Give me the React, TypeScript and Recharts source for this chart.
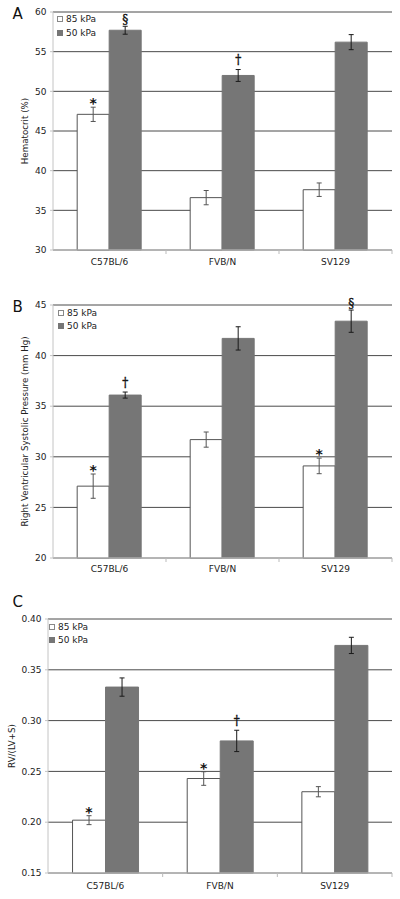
import React from 'react';
import { BarChart, Bar, XAxis, YAxis, CartesianGrid, ErrorBar, LabelList } from 'recharts';

const STRAINS = ['C57BL/6', 'FVB/N', 'SV129'];
const SERIES_NAMES = ['85 kPa', '50 kPa'];

// A: hematocrit (%)
const HCT_85 = [47.1, 36.6, 37.6];
const HCT_85_ERR = [0.9, 0.9, 0.85];
const HCT_50 = [57.7, 52.0, 56.2];
const HCT_50_ERR = [0.5, 0.75, 0.95];
const HCT_85_MARK = ['*', '', ''];
const HCT_50_MARK = ['§', '†', ''];
const HCT_TICKS = [30, 35, 40, 45, 50, 55, 60];

// B: right ventricular systolic pressure (mm Hg)
const RVSP_85 = [27.1, 31.7, 29.1];
const RVSP_85_ERR = [1.2, 0.75, 0.77];
const RVSP_50 = [36.1, 41.7, 43.4];
const RVSP_50_ERR = [0.3, 1.15, 1.1];
const RVSP_85_MARK = ['*', '', '*'];
const RVSP_50_MARK = ['†', '', '§'];
const RVSP_TICKS = [20, 25, 30, 35, 40, 45];

// C: RV/(LV+S)
const RV_85 = [0.202, 0.243, 0.230];
const RV_85_ERR = [0.0044, 0.0067, 0.005];
const RV_50 = [0.333, 0.280, 0.374];
const RV_50_ERR = [0.009, 0.0105, 0.008];
const RV_85_MARK = ['*', '*', ''];
const RV_50_MARK = ['', '†', ''];
const RV_TICKS = [0.15, 0.2, 0.25, 0.3, 0.35, 0.4];

const FONT = '"DejaVu Sans", Verdana, sans-serif';
const SERIF = '"DejaVu Serif", "Liberation Serif", serif';
const GRAY = '#767676';

// significance symbol sitting just above the error bar
const markLabel = (vals: number[], errs: number[], base: number) => (props: any) => {
  const { value, index } = props;
  if (!value) return null;
  const x = Number(props.x), y = Number(props.y), w = Number(props.width), h = Number(props.height);
  const pxPerUnit = h / (vals[index] - base);
  const errTop = y - errs[index] * pxPerUnit;
  const cx = x + w / 2;
  if (value === '*') {
    return (
      <text x={cx} y={errTop + 1} textAnchor="middle" fontFamily={FONT} fontWeight="bold" fontSize={14} fill="#111">
        *
      </text>
    );
  }
  const dy = value === '†' ? -5.5 : -2.5;
  return (
    <text
      x={cx}
      y={errTop + dy}
      textAnchor="middle"
      fontFamily={SERIF}
      fontSize={12}
      fill="#111"
      stroke="#111"
      strokeWidth={0.35}
    >
      {value}
    </text>
  );
};

const StrainTick = (props: any) => {
  const { x, y, payload, textDy } = props;
  const half = payload.offset ?? 0;
  return (
    <g>
      <text x={x} y={y + textDy} textAnchor="middle" fontFamily={FONT} fontSize={9} fill="#222">
        {payload.value}
      </text>
      <line x1={x + half} x2={x + half} y1={y} y2={y + 4} stroke="#bbb" />
    </g>
  );
};

type PanelProps = {
  letter: string;
  letterTop: number;
  yLabel: string;
  labelDx: number;
  ticks: number[];
  fmt: (v: number) => string;
  lo: number[];
  loErr: number[];
  loMark: string[];
  hi: number[];
  hiErr: number[];
  hiMark: string[];
  height: number;
  top: number;
  xAxisHeight: number;
  yAxisWidth: number;
  xTextDy: number;
  legendLeft: number;
  legendTop: number;
};

const Panel: React.FC<PanelProps> = (p) => {
  const rows = STRAINS.map((s, i) => ({
    strain: s,
    lo: p.lo[i],
    loErr: p.loErr[i],
    loMark: p.loMark[i],
    hi: p.hi[i],
    hiErr: p.hiErr[i],
    hiMark: p.hiMark[i],
  }));
  const base = p.ticks[0];
  const domain = [p.ticks[0], p.ticks[p.ticks.length - 1]];
  return (
    <div style={{ position: 'relative', width: 400, height: p.height }}>
      <div
        style={{ position: 'absolute', left: 12.5, top: p.letterTop, fontFamily: FONT, fontSize: 15, lineHeight: '15px', color: '#111' }}
      >
        {p.letter}
      </div>
      <BarChart
        width={400}
        height={p.height}
        data={rows}
        margin={{ top: p.top, right: 8, bottom: 0, left: 0 }}
        barCategoryGap="21.4%"
        barGap={0}
      >
        <CartesianGrid vertical={false} stroke="#4a4a4a" strokeWidth={1} />
        <XAxis
          dataKey="strain"
          height={p.xAxisHeight}
          axisLine={{ stroke: '#c4c4c4' }}
          tickLine={false}
          tickSize={0}
          tickMargin={0}
          interval={0}
          tick={(t: any) => <StrainTick {...t} textDy={p.xTextDy} />}
        />
        <YAxis
          width={p.yAxisWidth}
          domain={domain}
          ticks={p.ticks}
          interval={0}
          tickFormatter={p.fmt}
          axisLine={{ stroke: '#c4c4c4' }}
          tickLine={{ stroke: '#c4c4c4' }}
          tickSize={3}
          tickMargin={3.5}
          tick={{ fontFamily: FONT, fontSize: 9, fill: '#222' }}
          label={{
            value: p.yLabel,
            angle: -90,
            position: 'center',
            dx: p.labelDx,
            style: { fontFamily: FONT, fontSize: 8.7, fill: '#222', textAnchor: 'middle' },
          }}
        />
        <Bar dataKey="lo" fill="#ffffff" stroke="#555" strokeWidth={1} isAnimationActive={false}>
          <ErrorBar dataKey="loErr" width={2.5} stroke="#555" strokeWidth={1} />
          <LabelList dataKey="loMark" content={markLabel(p.lo, p.loErr, base)} />
        </Bar>
        <Bar dataKey="hi" fill={GRAY} stroke={GRAY} strokeWidth={1} isAnimationActive={false}>
          <ErrorBar dataKey="hiErr" width={2.5} stroke="#1a1a1a" strokeWidth={1} />
          <LabelList dataKey="hiMark" content={markLabel(p.hi, p.hiErr, base)} />
        </Bar>
      </BarChart>
      <div style={{ position: 'absolute', left: p.legendLeft, top: p.legendTop, fontFamily: FONT, fontSize: 9, color: '#222' }}>
        {SERIES_NAMES.map((name, i) => (
          <div key={name} style={{ display: 'flex', alignItems: 'center', height: 13.5 }}>
            <svg width={6} height={6} style={{ marginRight: 3 }}>
              <rect
                x={0.5}
                y={0.5}
                width={5}
                height={5}
                fill={i === 0 ? '#fff' : GRAY}
                stroke={i === 0 ? '#888' : GRAY}
              />
            </svg>
            <span>{name}</span>
          </div>
        ))}
      </div>
    </div>
  );
};

export default function App() {
  return (
    <div style={{ position: 'absolute', left: 0, top: 0, width: 400, height: 899, background: '#fff' }}>
      <Panel
        letter="A"
        letterTop={7.3}
        yLabel="Hematocrit (%)"
        labelDx={-1.5}
        ticks={HCT_TICKS}
        fmt={(v) => String(v)}
        lo={HCT_85}
        loErr={HCT_85_ERR}
        loMark={HCT_85_MARK}
        hi={HCT_50}
        hiErr={HCT_50_ERR}
        hiMark={HCT_50_MARK}
        height={290}
        top={12}
        xAxisHeight={40}
        yAxisWidth={53}
        xTextDy={15}
        legendLeft={57}
        legendTop={12.5}
      />
      <Panel
        letter="B"
        letterTop={9.6}
        yLabel="Right Ventricular Systolic Pressure (mm Hg)"
        labelDx={-1.5}
        ticks={RVSP_TICKS}
        fmt={(v) => String(v)}
        lo={RVSP_85}
        loErr={RVSP_85_ERR}
        loMark={RVSP_85_MARK}
        hi={RVSP_50}
        hiErr={RVSP_50_ERR}
        hiMark={RVSP_50_MARK}
        height={300}
        top={15}
        xAxisHeight={32}
        yAxisWidth={53}
        xTextDy={13.6}
        legendLeft={58}
        legendTop={16}
      />
      <Panel
        letter="C"
        letterTop={4.6}
        yLabel="RV/(LV+S)"
        labelDx={-12}
        ticks={RV_TICKS}
        fmt={(v) => v.toFixed(2)}
        lo={RV_85}
        loErr={RV_85_ERR}
        loMark={RV_85_MARK}
        hi={RV_50}
        hiErr={RV_50_ERR}
        hiMark={RV_50_MARK}
        height={309}
        top={29}
        xAxisHeight={26}
        yAxisWidth={48}
        xTextDy={16.3}
        legendLeft={49}
        legendTop={30}
      />
    </div>
  );
}
